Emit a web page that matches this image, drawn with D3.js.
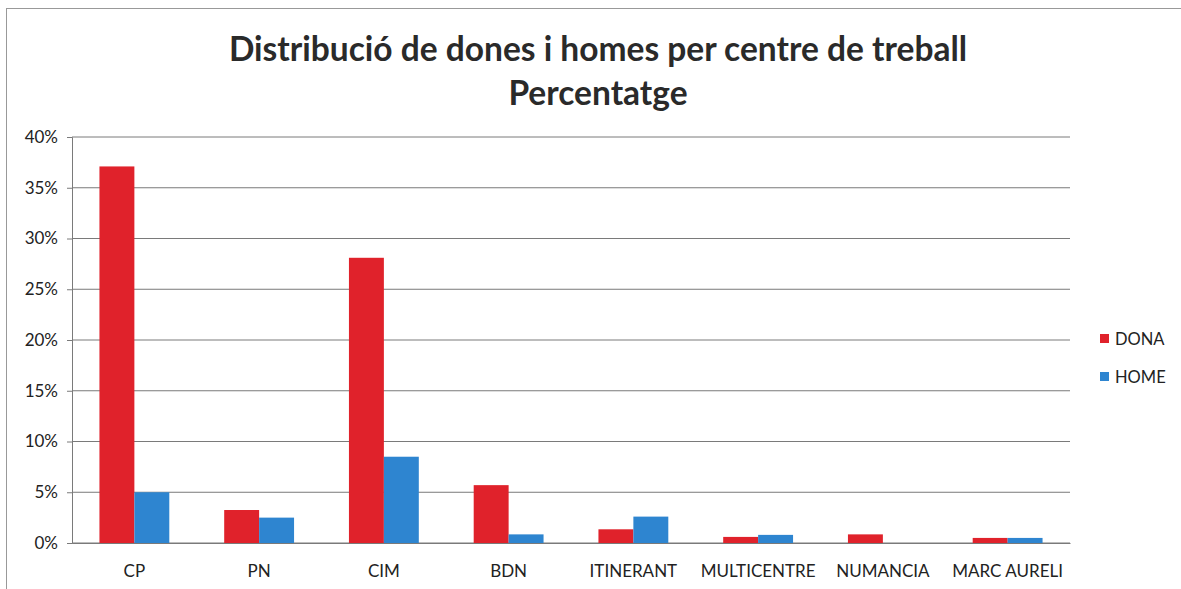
<!DOCTYPE html>
<html><head><meta charset="utf-8">
<script src="https://d3js.org/d3.v7.min.js"></script>
<style>body{margin:0;background:#fff}svg{display:block}</style>
</head><body>
<svg id="c" width="1181" height="589"></svg>
<script>
const categories = ["CP","PN","CIM","BDN","ITINERANT","MULTICENTRE","NUMANCIA","MARC AURELI"];
const dona = [37.1, 3.25, 28.1, 5.7, 1.35, 0.6, 0.85, 0.5];
const home = [5.0, 2.5, 8.5, 0.85, 2.6, 0.8, 0, 0.5];
const seriesNames = ["DONA","HOME"];
const yTicks = [0,5,10,15,20,25,30,35,40];
const titleLines = ["Distribució de dones i homes per centre de treball","Percentatge"];

const svg = d3.select("#c");
const font = "Lato, 'Open Sans', sans-serif";
const colors = {DONA:"#e0222b", HOME:"#2e85d0"};

svg.append("rect").attr("x",6.5).attr("y",8.5).attr("width",1190).attr("height",600)
  .attr("fill","none").attr("stroke","#999").attr("stroke-width",1);

const L=72, R=1070, T=137, B=543;
const x = d3.scaleBand().domain(categories).range([L,R]).paddingInner(0.44).paddingOuter(0.22);
const xs = d3.scaleBand().domain(seriesNames).range([0,x.bandwidth()]);
const y = d3.scaleLinear().domain([0,40]).range([B,T]);

svg.append("g").selectAll("line").data(yTicks).join("line")
  .attr("x1",L).attr("x2",R).attr("y1",d=>y(d)).attr("y2",d=>y(d))
  .attr("stroke","#7a7a7a").attr("stroke-width",1);

const yAxis = svg.append("g").attr("transform",`translate(${L},0)`)
  .call(d3.axisLeft(y).tickValues(yTicks).tickFormat(d=>d+"%").tickSize(5).tickPadding(9));
yAxis.select(".domain").attr("stroke","#7a7a7a");
yAxis.selectAll(".tick line").attr("stroke","#7a7a7a");
yAxis.selectAll("text").attr("font-family",font).attr("font-size",17).attr("fill","#222");

const data = categories.map((c,i)=>({c, vals:[{s:"DONA",v:dona[i]},{s:"HOME",v:home[i]}]}));
const g = svg.append("g").selectAll("g").data(data).join("g")
  .attr("transform",d=>`translate(${x(d.c)},0)`);
g.selectAll("rect").data(d=>d.vals.filter(e=>e.v>0)).join("rect")
  .attr("x",d=>xs(d.s)).attr("width",xs.bandwidth())
  .attr("y",d=>y(d.v)).attr("height",d=>B-y(d.v))
  .attr("fill",d=>colors[d.s]);

const xAxis = svg.append("g").attr("transform",`translate(0,${B})`)
  .call(d3.axisBottom(x).tickSize(0).tickPadding(22));
xAxis.select(".domain").attr("stroke","#7a7a7a");
xAxis.selectAll("text").attr("font-family",font).attr("font-size",17).attr("fill","#222");

svg.append("g").selectAll("text").data(titleLines).join("text")
  .attr("x",598).attr("y",(d,i)=>61+i*44).attr("text-anchor","middle")
  .attr("font-family",font).attr("font-weight","bold").attr("font-size",33.5).attr("fill","#2a2a2a")
  .text(d=>d);

const lg = svg.append("g").selectAll("g").data(seriesNames).join("g")
  .attr("transform",(d,i)=>`translate(1100,${334+i*38})`);
lg.append("rect").attr("width",9).attr("height",9).attr("fill",d=>colors[d]);
lg.append("text").attr("x",15).attr("y",11).attr("font-family",font).attr("font-size",16.5).attr("fill","#222").text(d=>d);
</script>
</body></html>
